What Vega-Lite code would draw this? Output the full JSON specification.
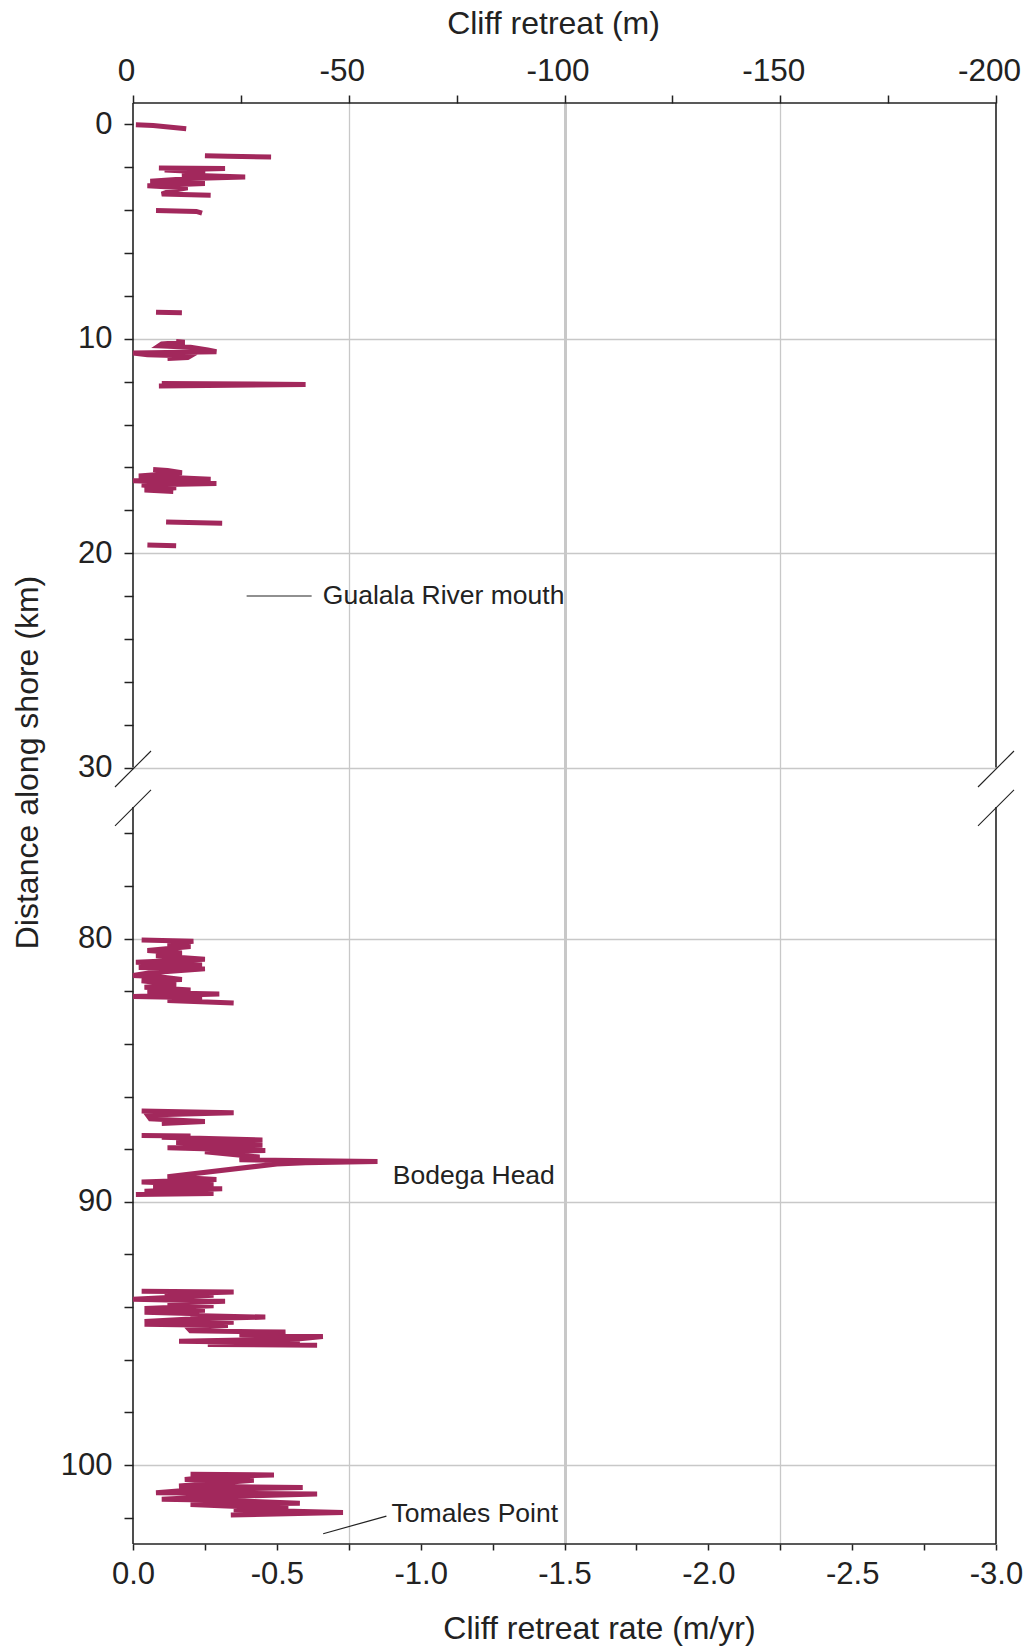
{
  "$schema": "https://vega.github.io/schema/vega-lite/v6.json",
  "autosize": "none",
  "padding": {"left": 133, "top": 103, "right": 28, "bottom": 104},
  "width": 863,
  "height": 1441,
  "background": "white",
  "config": {"font": "Liberation Sans", "view": {"stroke": null}},
  "datasets": {
    "lines": [
      {"seg": 1, "y": 0.02, "x": -0.01}, {"seg": 1, "y": 0.05, "x": -0.07}, {"seg": 1, "y": 0.2, "x": -0.185},
      {"seg": 2, "y": 1.46, "x": -0.25}, {"seg": 2, "y": 1.49, "x": -0.33}, {"seg": 2, "y": 1.52, "x": -0.48},
      {"seg": 3, "y": 2.03, "x": -0.09}, {"seg": 3, "y": 2.06, "x": -0.32}, {"seg": 3, "y": 2.12, "x": -0.11}, {"seg": 3, "y": 2.2, "x": -0.22}, {"seg": 3, "y": 2.28, "x": -0.25}, {"seg": 3, "y": 2.36, "x": -0.17}, {"seg": 3, "y": 2.45, "x": -0.39}, {"seg": 3, "y": 2.52, "x": -0.2}, {"seg": 3, "y": 2.65, "x": -0.06}, {"seg": 3, "y": 2.76, "x": -0.25}, {"seg": 3, "y": 2.86, "x": -0.05}, {"seg": 3, "y": 2.96, "x": -0.19}, {"seg": 3, "y": 3.1, "x": -0.13}, {"seg": 3, "y": 3.25, "x": -0.1}, {"seg": 3, "y": 3.3, "x": -0.27},
      {"seg": 4, "y": 4.02, "x": -0.08}, {"seg": 4, "y": 4.06, "x": -0.22}, {"seg": 4, "y": 4.14, "x": -0.24},
      {"seg": 5, "y": 8.76, "x": -0.08}, {"seg": 5, "y": 8.79, "x": -0.17},
      {"seg": 6, "y": 10.13, "x": -0.15}, {"seg": 6, "y": 10.16, "x": -0.18}, {"seg": 6, "y": 10.24, "x": -0.1}, {"seg": 6, "y": 10.33, "x": -0.09}, {"seg": 6, "y": 10.4, "x": -0.2}, {"seg": 6, "y": 10.52, "x": -0.26}, {"seg": 6, "y": 10.6, "x": -0.29}, {"seg": 6, "y": 10.66, "x": 0.0}, {"seg": 6, "y": 10.74, "x": -0.05}, {"seg": 6, "y": 10.8, "x": -0.2}, {"seg": 6, "y": 10.88, "x": -0.19}, {"seg": 6, "y": 10.92, "x": -0.12},
      {"seg": 7, "y": 12.08, "x": -0.1}, {"seg": 7, "y": 12.13, "x": -0.6}, {"seg": 7, "y": 12.2, "x": -0.09},
      {"seg": 8, "y": 16.1, "x": -0.07}, {"seg": 8, "y": 16.14, "x": -0.12}, {"seg": 8, "y": 16.25, "x": -0.17}, {"seg": 8, "y": 16.4, "x": -0.02}, {"seg": 8, "y": 16.55, "x": -0.27}, {"seg": 8, "y": 16.62, "x": 0.0}, {"seg": 8, "y": 16.75, "x": -0.29}, {"seg": 8, "y": 16.82, "x": -0.03}, {"seg": 8, "y": 16.95, "x": -0.15}, {"seg": 8, "y": 17.05, "x": -0.04}, {"seg": 8, "y": 17.12, "x": -0.14},
      {"seg": 9, "y": 18.55, "x": -0.115}, {"seg": 9, "y": 18.6, "x": -0.31},
      {"seg": 10, "y": 19.62, "x": -0.05}, {"seg": 10, "y": 19.66, "x": -0.15},
      {"seg": 11, "y": 80.05, "x": -0.03}, {"seg": 11, "y": 80.1, "x": -0.21}, {"seg": 11, "y": 80.2, "x": -0.12}, {"seg": 11, "y": 80.3, "x": -0.2}, {"seg": 11, "y": 80.45, "x": -0.05}, {"seg": 11, "y": 80.55, "x": -0.17}, {"seg": 11, "y": 80.65, "x": -0.08}, {"seg": 11, "y": 80.78, "x": -0.25}, {"seg": 11, "y": 80.9, "x": -0.01}, {"seg": 11, "y": 81.0, "x": -0.24}, {"seg": 11, "y": 81.1, "x": -0.02}, {"seg": 11, "y": 81.15, "x": -0.25}, {"seg": 11, "y": 81.3, "x": -0.06}, {"seg": 11, "y": 81.4, "x": 0.0}, {"seg": 11, "y": 81.45, "x": -0.09}, {"seg": 11, "y": 81.55, "x": -0.17}, {"seg": 11, "y": 81.6, "x": -0.03}, {"seg": 11, "y": 81.75, "x": -0.15}, {"seg": 11, "y": 81.85, "x": -0.04}, {"seg": 11, "y": 81.95, "x": -0.2}, {"seg": 11, "y": 82.05, "x": -0.05}, {"seg": 11, "y": 82.1, "x": -0.3}, {"seg": 11, "y": 82.2, "x": 0.0}, {"seg": 11, "y": 82.25, "x": -0.24}, {"seg": 11, "y": 82.35, "x": -0.12}, {"seg": 11, "y": 82.45, "x": -0.35},
      {"seg": 12, "y": 86.55, "x": -0.03}, {"seg": 12, "y": 86.62, "x": -0.35}, {"seg": 12, "y": 86.7, "x": -0.05}, {"seg": 12, "y": 86.85, "x": -0.06}, {"seg": 12, "y": 86.95, "x": -0.25}, {"seg": 12, "y": 87.02, "x": -0.1},
      {"seg": 13, "y": 87.48, "x": -0.03}, {"seg": 13, "y": 87.5, "x": -0.2}, {"seg": 13, "y": 87.55, "x": -0.1}, {"seg": 13, "y": 87.65, "x": -0.45}, {"seg": 13, "y": 87.75, "x": -0.15}, {"seg": 13, "y": 87.85, "x": -0.45}, {"seg": 13, "y": 87.95, "x": -0.12}, {"seg": 13, "y": 88.05, "x": -0.46}, {"seg": 13, "y": 88.1, "x": -0.25}, {"seg": 13, "y": 88.3, "x": -0.44}, {"seg": 13, "y": 88.4, "x": -0.37}, {"seg": 13, "y": 88.47, "x": -0.85}, {"seg": 13, "y": 88.52, "x": -0.6}, {"seg": 13, "y": 88.56, "x": -0.5}, {"seg": 13, "y": 89.05, "x": -0.12}, {"seg": 13, "y": 89.15, "x": -0.29}, {"seg": 13, "y": 89.25, "x": -0.03}, {"seg": 13, "y": 89.35, "x": -0.28}, {"seg": 13, "y": 89.45, "x": -0.07}, {"seg": 13, "y": 89.5, "x": -0.31}, {"seg": 13, "y": 89.6, "x": -0.04}, {"seg": 13, "y": 89.68, "x": -0.28}, {"seg": 13, "y": 89.72, "x": -0.01},
      {"seg": 14, "y": 93.4, "x": -0.03}, {"seg": 14, "y": 93.43, "x": -0.35}, {"seg": 14, "y": 93.5, "x": -0.11}, {"seg": 14, "y": 93.55, "x": -0.28}, {"seg": 14, "y": 93.7, "x": 0.0}, {"seg": 14, "y": 93.78, "x": -0.32}, {"seg": 14, "y": 93.85, "x": -0.12}, {"seg": 14, "y": 93.95, "x": -0.28}, {"seg": 14, "y": 94.05, "x": -0.04}, {"seg": 14, "y": 94.12, "x": -0.25}, {"seg": 14, "y": 94.2, "x": -0.04}, {"seg": 14, "y": 94.25, "x": -0.23}, {"seg": 14, "y": 94.32, "x": -0.2}, {"seg": 14, "y": 94.38, "x": -0.46}, {"seg": 14, "y": 94.45, "x": -0.2}, {"seg": 14, "y": 94.55, "x": -0.04}, {"seg": 14, "y": 94.58, "x": -0.35}, {"seg": 14, "y": 94.65, "x": -0.04}, {"seg": 14, "y": 94.7, "x": -0.33}, {"seg": 14, "y": 94.78, "x": -0.19}, {"seg": 14, "y": 94.9, "x": -0.2}, {"seg": 14, "y": 94.95, "x": -0.53}, {"seg": 14, "y": 95.05, "x": -0.37}, {"seg": 14, "y": 95.12, "x": -0.66}, {"seg": 14, "y": 95.2, "x": -0.58}, {"seg": 14, "y": 95.3, "x": -0.16}, {"seg": 14, "y": 95.35, "x": -0.58}, {"seg": 14, "y": 95.42, "x": -0.26}, {"seg": 14, "y": 95.45, "x": -0.64},
      {"seg": 15, "y": 100.35, "x": -0.2}, {"seg": 15, "y": 100.38, "x": -0.49}, {"seg": 15, "y": 100.45, "x": -0.27}, {"seg": 15, "y": 100.55, "x": -0.18}, {"seg": 15, "y": 100.58, "x": -0.42}, {"seg": 15, "y": 100.7, "x": -0.27}, {"seg": 15, "y": 100.8, "x": -0.16}, {"seg": 15, "y": 100.85, "x": -0.59}, {"seg": 15, "y": 100.95, "x": -0.2}, {"seg": 15, "y": 101.05, "x": -0.08}, {"seg": 15, "y": 101.1, "x": -0.64}, {"seg": 15, "y": 101.2, "x": -0.29}, {"seg": 15, "y": 101.3, "x": -0.1}, {"seg": 15, "y": 101.35, "x": -0.35}, {"seg": 15, "y": 101.45, "x": -0.58}, {"seg": 15, "y": 101.5, "x": -0.2}, {"seg": 15, "y": 101.65, "x": -0.54}, {"seg": 15, "y": 101.7, "x": -0.35}, {"seg": 15, "y": 101.8, "x": -0.73}, {"seg": 15, "y": 101.9, "x": -0.34}
    ],
    "frame": [
      {"x": 0, "x2": 0, "y": -1, "y2": 30},
      {"x": 0, "x2": 0, "y": 75, "y2": 103},
      {"x": -3, "x2": -3, "y": -1, "y2": 30},
      {"x": -3, "x2": -3, "y": 75, "y2": 103},
      {"x": 0, "x2": -3, "y": -1, "y2": -1},
      {"x": 0, "x2": -3, "y": 103, "y2": 103}
    ],
    "breaks": [
      {"x": 0.0626, "x2": -0.0626, "y": 52.2, "y2": 29.23},
      {"x": 0.0626, "x2": -0.0626, "y": 75.72, "y2": 55.6},
      {"x": -2.9374, "x2": -3.0626, "y": 52.2, "y2": 29.23},
      {"x": -2.9374, "x2": -3.0626, "y": 75.72, "y2": 55.6}
    ],
    "leaders": [
      {"x": -0.395, "x2": -0.621, "y": 22.0, "y2": 22.0},
      {"x": -0.661, "x2": -0.881, "y": 102.61, "y2": 101.94}
    ],
    "notes": [
      {"x": -0.66, "y": 22.0, "text": "Gualala River mouth"},
      {"x": -0.903, "y": 89.0, "text": "Bodega Head"},
      {"x": -0.899, "y": 101.86, "text": "Tomales Point"}
    ]
  },
  "encoding": {
    "y": {
      "field": "y", "type": "quantitative",
      "scale": {"domain": [-1, 30, 75, 103], "range": [0, 664.5, 704, 1441], "nice": false, "zero": false},
      "axis": {
        "orient": "left",
        "title": "Distance along shore (km)",
        "values": [0, 2, 4, 6, 8, 10, 12, 14, 16, 18, 20, 22, 24, 26, 28, 30, 76, 78, 80, 82, 84, 86, 88, 90, 92, 94, 96, 98, 100, 102],
        "domain": false,
        "tickSize": 9, "tickWidth": 1.5, "tickColor": "#222",
        "labelExpr": "datum.value % 10 === 0 ? datum.label : ''",
        "labelFontSize": 31, "labelColor": "#222", "labelPadding": 12,
        "labelOverlap": false, "labelFlush": false, "labelBound": false,
        "grid": true,
        "gridColor": {"condition": {"test": "datum.value % 10 === 0 && datum.value !== 0", "value": "#c8c8c8"}, "value": "rgba(0,0,0,0)"},
        "gridWidth": 1.3,
        "titleFontSize": 32, "titleFontWeight": "normal", "titleColor": "#222",
        "titleAngle": -90, "titleX": -95.5, "titleY": 659, "titleBaseline": "alphabetic", "titleAlign": "center"
      }
    }
  },
  "layer": [
    {
      "data": {"name": "frame"},
      "mark": {"type": "rule", "color": "#222", "strokeWidth": 1.6},
      "encoding": {
        "x": {
          "field": "x", "type": "quantitative",
          "scale": {"domain": [0, -3], "nice": false, "zero": false},
          "axis": {
            "orient": "top",
            "title": "Cliff retreat (m)",
            "values": [0, -0.375, -0.75, -1.125, -1.5, -1.875, -2.25, -2.625, -3],
            "domain": false,
            "tickSize": 8, "tickWidth": 1.5, "tickColor": "#222",
            "labelExpr": "round(datum.value*200/3) % 50 === 0 ? ((datum.value < -0.001 ? '-' : '') + abs(round(datum.value*200/3))) : ''",
            "labelFontSize": 31.5, "labelColor": "#222", "labelPadding": 15, "labelBaseline": "alphabetic",
            "labelOffset": -7,
            "labelOverlap": false, "labelFlush": false, "labelBound": false,
            "grid": true,
            "gridColor": {"condition": {"test": "round(datum.value*200/3) % 50 === 0 && datum.value < -0.1 && datum.value > -2.9", "value": "#c8c8c8"}, "value": "rgba(0,0,0,0)"},
            "gridWidth": {"condition": {"test": "abs(datum.value + 1.5) < 0.01", "value": 3}, "value": 1.3},
            "titleFontSize": 32, "titleFontWeight": "normal", "titleColor": "#222",
            "titleX": 420, "titleAlign": "center",
            "titleY": -70, "titleBaseline": "alphabetic"
          }
        },
        "x2": {"field": "x2"},
        "y2": {"field": "y2"}
      }
    },
    {
      "data": {"name": "breaks"},
      "mark": {"type": "rule", "color": "#222", "strokeWidth": 1.1},
      "encoding": {
        "x": {"field": "x", "type": "quantitative", "scale": {"domain": [0, -3], "nice": false, "zero": false}, "axis": null},
        "x2": {"field": "x2"},
        "y2": {"field": "y2"}
      }
    },
    {
      "data": {"name": "leaders"},
      "mark": {"type": "rule", "color": "#222", "strokeWidth": 1.2},
      "encoding": {
        "x": {"field": "x", "type": "quantitative", "scale": {"domain": [0, -3], "nice": false, "zero": false}, "axis": null},
        "x2": {"field": "x2"},
        "y2": {"field": "y2"}
      }
    },
    {
      "data": {"name": "notes"},
      "mark": {"type": "text", "align": "left", "baseline": "middle", "fontSize": 26.5, "color": "#222"},
      "encoding": {
        "x": {"field": "x", "type": "quantitative", "scale": {"domain": [0, -3], "nice": false, "zero": false}, "axis": null},
        "text": {"field": "text"}
      }
    },
    {
      "data": {"name": "lines"},
      "mark": {"type": "line", "color": "#a2285c", "strokeWidth": 5, "strokeJoin": "miter", "strokeCap": "butt"},
      "encoding": {
        "x": {
          "field": "x", "type": "quantitative",
          "scale": {"domain": [0, -3], "nice": false, "zero": false},
          "axis": {
            "orient": "bottom",
            "title": "Cliff retreat rate (m/yr)",
            "values": [0, -0.25, -0.5, -0.75, -1, -1.25, -1.5, -1.75, -2, -2.25, -2.5, -2.75, -3],
            "domain": false, "grid": false,
            "tickSize": 6, "tickWidth": 1.5, "tickColor": "#222",
            "labelExpr": "abs(datum.value*2 - round(datum.value*2)) < 0.001 ? ((datum.value < -0.001 ? '-' : '') + format(abs(datum.value), '.1f')) : ''",
            "labelFontSize": 31, "labelColor": "#222", "labelPadding": 9,
            "labelOverlap": false, "labelFlush": false, "labelBound": false,
            "titleFontSize": 32, "titleFontWeight": "normal", "titleColor": "#222",
            "titleX": 466, "titleAlign": "center",
            "titleY": 94, "titleBaseline": "alphabetic"
          }
        },
        "detail": {"field": "seg", "type": "nominal"},
        "order": {"field": "y", "type": "quantitative"}
      }
    }
  ],
  "resolve": {"axis": {"x": "independent"}}
}
